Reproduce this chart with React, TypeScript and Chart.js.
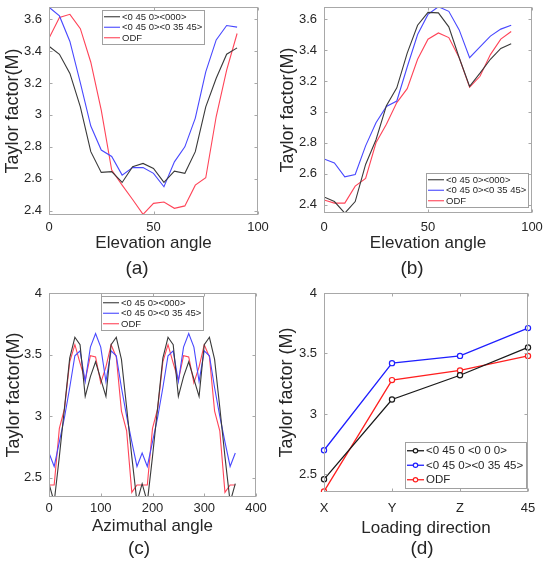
import React, { useRef, useEffect } from "react";
import Chart from "chart.js/auto";

const FONT = "'Liberation Sans', Arial, Helvetica, sans-serif";
const INK = "#262626";
const FRAME = "#a8a8a8";
const LEGEND_EDGE = "#a0a0a0";

const names = ["<0 45 0><000>", "<0 45 0><0 35 45>", "ODF"];
const namesD = ["<0 45 0 <0 0 0>", "<0 45 0><0 35 45>", "ODF"];

// (a) and (b): elevation angle
const elevation = [0, 5, 10, 15, 20, 25, 30, 35, 40, 45, 50, 55, 60, 65, 70, 75, 80, 85, 90];
const aBlack = [3.43, 3.38, 3.26, 3.05, 2.77, 2.64, 2.645, 2.577, 2.675, 2.696, 2.665, 2.577, 2.648, 2.634, 2.77, 3.05, 3.23, 3.38, 3.42];
const aBlue = [3.675, 3.62, 3.46, 3.2, 2.93, 2.78, 2.74, 2.623, 2.67, 2.67, 2.634, 2.55, 2.706, 2.8, 2.98, 3.27, 3.47, 3.56, 3.55];
const aRed = [3.48, 3.61, 3.63, 3.54, 3.33, 3.03, 2.655, 2.56, 2.47, 2.377, 2.446, 2.454, 2.415, 2.43, 2.56, 2.606, 2.99, 3.28, 3.51];

const bBlack = [2.45, 2.42, 2.345, 2.42, 2.66, 2.82, 3.04, 3.155, 3.38, 3.56, 3.643, 3.64, 3.55, 3.35, 3.165, 3.25, 3.34, 3.41, 3.44];
const bBlue = [2.695, 2.67, 2.58, 2.595, 2.78, 2.93, 3.035, 3.07, 3.29, 3.5, 3.63, 3.68, 3.65, 3.53, 3.35, 3.42, 3.49, 3.535, 3.56];
const bRed = [2.43, 2.41, 2.41, 2.52, 2.57, 2.8, 2.92, 3.06, 3.15, 3.34, 3.47, 3.51, 3.48, 3.35, 3.16, 3.23, 3.37, 3.47, 3.52];

// (c): azimuthal angle
const azimuth = [0, 10, 20, 30, 40, 50, 60, 70, 80, 90, 100, 110, 120, 130, 140, 150, 160, 170, 180, 190, 200, 210, 220, 230, 240, 250, 260, 270, 280, 290, 300, 310, 320, 330, 340, 350, 360];
const cBlack = [2.45, 2.3, 2.67, 3.07, 3.47, 3.64, 3.58, 3.16, 3.32, 3.44, 3.3, 3.16, 3.58, 3.64, 3.46, 3.07, 2.67, 2.3, 2.45, 2.3, 2.67, 3.07, 3.47, 3.64, 3.58, 3.16, 3.32, 3.44, 3.3, 3.16, 3.58, 3.64, 3.46, 3.07, 2.67, 2.3, 2.45];
const cBlue = [2.7, 2.59, 2.79, 2.99, 3.23, 3.49, 3.53, 3.28, 3.56, 3.67, 3.56, 3.28, 3.53, 3.49, 3.23, 3.0, 2.79, 2.59, 2.7, 2.59, 2.79, 2.99, 3.23, 3.49, 3.53, 3.28, 3.56, 3.67, 3.56, 3.28, 3.53, 3.49, 3.23, 3.0, 2.79, 2.59, 2.7];
const cRed = [2.44, 2.44, 2.9, 3.06, 3.44, 3.58, 3.43, 3.29, 3.49, 3.48, 3.27, 3.4, 3.58, 3.48, 3.04, 2.88, 2.38, 2.44, 2.44, 2.44, 2.9, 3.06, 3.44, 3.58, 3.43, 3.29, 3.49, 3.48, 3.27, 3.4, 3.58, 3.48, 3.04, 2.88, 2.38, 2.44, 2.44];

// (d): loading direction
const loading = ["X", "Y", "Z", "45"];
const dBlack = [2.46, 3.12, 3.32, 3.55];
const dBlue = [2.7, 3.42, 3.48, 3.71];
const dRed = [2.36, 3.28, 3.36, 3.48];

const elevTicks = [0, 50, 100];
const azimTicks = [0, 100, 200, 300, 400];
const yTicksAB = [2.4, 2.6, 2.8, 3, 3.2, 3.4, 3.6];
const yTicksCD = [2.5, 3, 3.5, 4];

const pts = (xs: number[], ys: number[]) => xs.map((x, i) => ({ x, y: ys[i] }));

function lineSet(label: string, data: any[], color: string, width: number, markers = false) {
  return {
    label,
    data,
    borderColor: color,
    backgroundColor: color,
    borderWidth: width,
    pointRadius: markers ? 2.6 : 0,
    pointBorderWidth: 1.2,
    pointBackgroundColor: "#ffffff",
    pointBorderColor: color,
    tension: 0,
    fill: false,
  };
}

// axes box with small inward ticks, like the original plotting program
const frame = {
  id: "frame",
  afterDatasetsDraw(chart: any) {
    const { ctx, chartArea: a, scales } = chart;
    const L = Math.round(a.left) + 0.5;
    const R = Math.round(a.right) - 0.5;
    const T = Math.round(a.top) + 0.5;
    const B = Math.round(a.bottom) - 0.5;
    ctx.save();
    ctx.strokeStyle = FRAME;
    ctx.lineWidth = 1;
    ctx.strokeRect(L, T, R - L, B - T);
    ctx.beginPath();
    scales.x.ticks.forEach((_t: any, i: number) => {
      const px = Math.round(scales.x.getPixelForTick(i)) + 0.5;
      ctx.moveTo(px, B);
      ctx.lineTo(px, B - 3);
      ctx.moveTo(px, T);
      ctx.lineTo(px, T + 3);
    });
    scales.y.ticks.forEach((_t: any, i: number) => {
      const py = Math.round(scales.y.getPixelForTick(i)) + 0.5;
      ctx.moveTo(L, py);
      ctx.lineTo(L + 3, py);
      ctx.moveTo(R, py);
      ctx.lineTo(R - 3, py);
    });
    ctx.stroke();
    ctx.restore();
  },
};

const insetLegend = {
  id: "insetLegend",
  afterDatasetsDraw(chart: any, _args: any, o: any) {
    if (!o || !o.anchor) return;
    const { ctx, chartArea: a } = chart;
    const sets = chart.data.datasets;
    ctx.save();
    ctx.font = `${o.size}px ${FONT}`;
    const textW = Math.max(...sets.map((d: any) => ctx.measureText(d.label).width));
    const w = Math.round(o.padL + o.sample + o.gap + textW + o.padR);
    const h = Math.round(o.rowH * sets.length + o.padV * 2);
    let x0: number, y0: number;
    if (o.anchor === "n") {
      x0 = Math.round((a.left + a.right) / 2 - w / 2 + o.dx);
      y0 = Math.round(a.top + o.dy);
    } else {
      x0 = Math.round(a.right - o.dx - w);
      y0 = Math.round(a.bottom - o.dy - h);
    }
    ctx.fillStyle = "#ffffff";
    ctx.fillRect(x0, y0, w, h);
    ctx.strokeStyle = LEGEND_EDGE;
    ctx.lineWidth = 1;
    ctx.strokeRect(x0 + 0.5, y0 + 0.5, w - 1, h - 1);
    sets.forEach((d: any, i: number) => {
      const cy = y0 + o.padV + o.rowH * (i + 0.5);
      const sx = x0 + o.padL;
      ctx.strokeStyle = d.borderColor;
      ctx.lineWidth = d.borderWidth;
      ctx.beginPath();
      ctx.moveTo(sx, cy);
      ctx.lineTo(sx + o.sample, cy);
      ctx.stroke();
      if (o.markers) {
        ctx.beginPath();
        ctx.arc(sx + o.sample / 2, cy, 2.2, 0, Math.PI * 2);
        ctx.fillStyle = "#ffffff";
        ctx.fill();
        ctx.lineWidth = 1.2;
        ctx.stroke();
      }
      ctx.fillStyle = INK;
      ctx.textBaseline = "middle";
      ctx.textAlign = "left";
      ctx.fillText(d.label, sx + o.sample + o.gap, cy + 0.5);
    });
    ctx.restore();
  },
};

interface Spec {
  left: number;
  top: number;
  w: number;
  h: number;
  area: [number, number, number, number]; // left, right, top, bottom
  tickPad: number;
  xTitleY: number;
  yTitlePad: number;
  xTitle: string;
  yTitle: string;
  x: any;
  y: { min: number; max: number; ticks: number[] };
  datasets: any[];
  labels?: string[];
  legend: any;
}

const legendSmall = { size: 9.5, rowH: 10.5, padV: 1.5, padL: 2, sample: 16, gap: 2, padR: 3, markers: false };

const specs: Spec[] = [
  {
    left: 0, top: 0, w: 275, h: 280,
    area: [49, 258, 7, 215], tickPad: 5, xTitleY: 243.5, yTitlePad: 2,
    xTitle: "Elevation angle", yTitle: "Taylor factor(M)",
    x: { type: "linear", min: 0, max: 100, ticks: elevTicks },
    y: { min: 2.373, max: 3.676, ticks: yTicksAB },
    datasets: [
      lineSet(names[0], pts(elevation, aBlack), "#3a3a3a", 1.1),
      lineSet(names[1], pts(elevation, aBlue), "#4848ff", 1.1),
      lineSet(names[2], pts(elevation, aRed), "#ff4458", 1.1),
    ],
    legend: { ...legendSmall, anchor: "n", dx: 0, dy: 3 },
  },
  {
    left: 275, top: 0, w: 275, h: 280,
    area: [49, 257, 7, 213], tickPad: 7, xTitleY: 243.5, yTitlePad: 2.5,
    xTitle: "Elevation angle", yTitle: "Taylor factor(M)",
    x: { type: "linear", min: 0, max: 100, ticks: elevTicks },
    y: { min: 2.346, max: 3.678, ticks: yTicksAB },
    datasets: [
      lineSet(names[0], pts(elevation, bBlack), "#3a3a3a", 1.1),
      lineSet(names[1], pts(elevation, bBlue), "#4848ff", 1.1),
      lineSet(names[2], pts(elevation, bRed), "#ff4458", 1.1),
    ],
    legend: { ...legendSmall, anchor: "se", dx: 3, dy: 5 },
  },
  {
    left: 0, top: 280, w: 275, h: 287,
    area: [49, 256, 13, 217], tickPad: 3.5, xTitleY: 246, yTitlePad: 3,
    xTitle: "Azimuthal angle", yTitle: "Taylor factor(M)",
    x: { type: "linear", min: 0, max: 400, ticks: azimTicks },
    y: { min: 2.342, max: 4, ticks: yTicksCD },
    datasets: [
      lineSet(names[0], pts(azimuth, cBlack), "#3a3a3a", 1.1),
      lineSet(names[1], pts(azimuth, cBlue), "#4848ff", 1.1),
      lineSet(names[2], pts(azimuth, cRed), "#ff4458", 1.1),
    ],
    legend: { ...legendSmall, anchor: "n", dx: 0, dy: 3 },
  },
  {
    left: 275, top: 280, w: 275, h: 287,
    area: [49, 253, 13, 212], tickPad: 8.5, xTitleY: 248, yTitlePad: 1,
    xTitle: "Loading direction", yTitle: "Taylor factor (M)",
    x: { type: "category" },
    labels: loading,
    y: { min: 2.355, max: 4, ticks: yTicksCD },
    datasets: [
      lineSet(namesD[0], dBlack, "#1a1a1a", 1.3, true),
      lineSet(namesD[1], dBlue, "#1f1fff", 1.3, true),
      lineSet(namesD[2], dRed, "#ff1f1f", 1.3, true),
    ],
    legend: { size: 11.5, rowH: 14.5, padV: 1.5, padL: 2, sample: 17, gap: 2, padR: 4, markers: true, anchor: "se", dx: 1, dy: 3 },
  },
];

const captions = [
  { text: "(a)", x: 137, y: 267 },
  { text: "(b)", x: 412, y: 267 },
  { text: "(c)", x: 139, y: 547 },
  { text: "(d)", x: 422, y: 547 },
];

const zeroPad = (s: any) => {
  s.paddingLeft = 0;
  s.paddingRight = 0;
  s.paddingTop = 0;
  s.paddingBottom = 0;
};

function buildConfig(p: Spec): any {
  const [l, r, t, b] = p.area;
  const xTitleSize = 17;
  const xAxisBottom = p.xTitleY + (xTitleSize * 1.2) / 2;
  const xAxisHeight = xAxisBottom - b;
  const tickFont = { family: FONT, size: 13 };

  const xScale: any = {
    type: p.x.type,
    grid: { display: false, drawTicks: false },
    border: { display: false },
    ticks: { padding: p.tickPad, font: tickFont, color: INK, maxRotation: 0, minRotation: 0, autoSkip: false },
    title: { display: true, text: p.xTitle, font: { family: FONT, size: xTitleSize }, color: INK, padding: 0 },
    afterFit: (s: any) => {
      s.height = xAxisHeight;
      zeroPad(s);
    },
  };
  if (p.x.type === "linear") {
    xScale.min = p.x.min;
    xScale.max = p.x.max;
    xScale.afterBuildTicks = (s: any) => {
      s.ticks = p.x.ticks.map((v: number) => ({ value: v }));
    };
    xScale.ticks.callback = (v: any) => String(v);
  } else {
    xScale.offset = false;
  }

  return {
    type: "line",
    data: p.labels ? { labels: p.labels, datasets: p.datasets } : { datasets: p.datasets },
    options: {
      animation: false,
      responsive: false,
      maintainAspectRatio: false,
      events: [],
      layout: { padding: { left: l - 49, right: p.w - r, top: t, bottom: p.h - xAxisBottom } },
      plugins: {
        legend: { display: false },
        tooltip: { enabled: false },
        insetLegend: p.legend,
      },
      scales: {
        x: xScale,
        y: {
          type: "linear",
          min: p.y.min,
          max: p.y.max,
          afterBuildTicks: (s: any) => {
            s.ticks = p.y.ticks.map((v) => ({ value: v }));
          },
          grid: { display: false, drawTicks: false },
          border: { display: false },
          ticks: { padding: 7, font: tickFont, color: INK, callback: (v: any) => String(v) },
          title: {
            display: true,
            text: p.yTitle,
            font: { family: FONT, size: 18 },
            color: INK,
            padding: { top: p.yTitlePad, bottom: 0 },
          },
          afterFit: (s: any) => {
            s.width = 49;
            zeroPad(s);
          },
        },
      },
    },
    plugins: [frame, insetLegend],
  };
}

const Panel: React.FC<{ spec: Spec }> = ({ spec }) => {
  const ref = useRef<HTMLCanvasElement | null>(null);

  useEffect(() => {
    const chart = new Chart(ref.current!.getContext("2d")!, buildConfig(spec));
    return () => {
      chart.destroy();
    };
  }, [spec]);

  return (
    <canvas
      ref={ref}
      width={spec.w}
      height={spec.h}
      style={{ position: "absolute", left: spec.left, top: spec.top, width: spec.w, height: spec.h }}
    />
  );
};

export default function App() {
  return (
    <div
      style={{
        position: "absolute",
        left: 0,
        top: 0,
        width: 550,
        height: 567,
        background: "#ffffff",
        overflow: "hidden",
        fontFamily: FONT,
      }}
    >
      {specs.map((s, i) => (
        <Panel key={i} spec={s} />
      ))}
      {captions.map((c) => (
        <div
          key={c.text}
          style={{
            position: "absolute",
            left: c.x,
            top: c.y,
            transform: "translate(-50%, -50%)",
            fontSize: 19,
            lineHeight: 1,
            color: INK,
            whiteSpace: "nowrap",
          }}
        >
          {c.text}
        </div>
      ))}
    </div>
  );
}
